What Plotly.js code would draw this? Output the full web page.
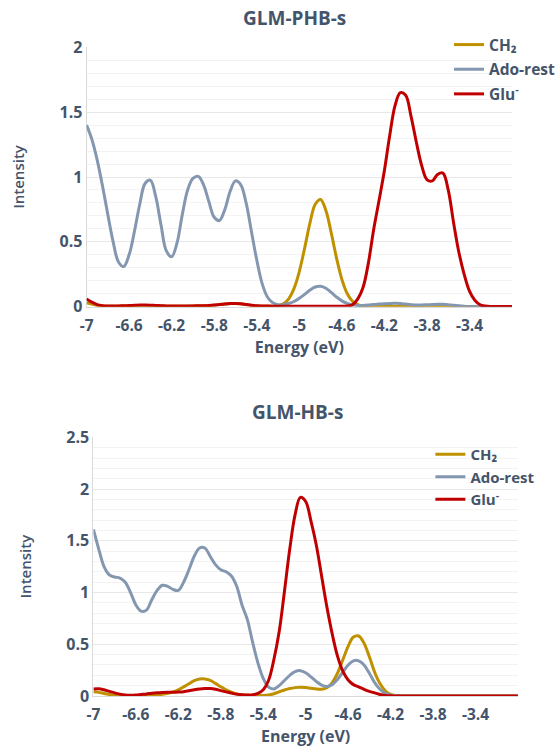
<!DOCTYPE html>
<html>
<head>
<meta charset="utf-8">
<script src="https://cdn.plot.ly/plotly-3.0.1.min.js"></script>
<style>
  html, body { margin: 0; padding: 0; background: #ffffff; }
  #chart { width: 560px; height: 747px; }
</style>
</head>
<body>
<div id="chart"></div>
<script>
// ---------------- DATA ----------------
const seriesNames = ["CH\u2082", "Ado-rest", "Glu<sup>-</sup>"];
const chartTitles = ["GLM-PHB-s", "GLM-HB-s"];
const xTickVals = [-7, -6.6, -6.2, -5.8, -5.4, -5, -4.6, -4.2, -3.8, -3.4];
const xTickText = ["-7", "-6.6", "-6.2", "-5.8", "-5.4", "-5", "-4.6", "-4.2", "-3.8", "-3.4"];

const energy = [-7.00,-6.95,-6.90,-6.85,-6.80,-6.75,-6.70,-6.65,-6.60,-6.55,
  -6.50,-6.45,-6.40,-6.35,-6.30,-6.25,-6.20,-6.15,-6.10,-6.05,
  -6.00,-5.95,-5.90,-5.85,-5.80,-5.75,-5.70,-5.65,-5.60,-5.55,
  -5.50,-5.45,-5.40,-5.35,-5.30,-5.25,-5.20,-5.15,-5.10,-5.05,
  -5.00,-4.95,-4.90,-4.85,-4.80,-4.75,-4.70,-4.65,-4.60,-4.55,
  -4.50,-4.45,-4.40,-4.35,-4.30,-4.25,-4.20,-4.15,-4.10,-4.05,
  -4.00,-3.95,-3.90,-3.85,-3.80,-3.75,-3.70,-3.65,-3.60,-3.55,
  -3.50,-3.45,-3.40,-3.35,-3.30,-3.25,-3.20,-3.15,-3.10,-3.05,-3.00];

// GLM-PHB-s
const phbCH2 = [0.03,0.02,0.01,0.005,0.004,0.004,0.004,0.005,0.006,0.007,
  0.008,0.008,0.007,0.006,0.005,0.004,0.004,0.004,0.004,0.004,
  0.005,0.006,0.007,0.009,0.012,0.016,0.02,0.024,0.025,0.022,
  0.016,0.01,0.006,0.004,0.003,0.004,0.009,0.023,0.061,0.139,
  0.271,0.451,0.645,0.79,0.827,0.742,0.57,0.375,0.211,0.102,
  0.042,0.015,0.005,0.003,0.003,0.002,0.002,0.002,0.002,0.002,
  0.002,0.002,0.002,0.002,0.002,0.002,0.002,0.002,0.002,0.002,
  0.002,0.002,0.002,0.002,0.002,0.001,0,0,0,0,0];
const phbAdo = [1.40,1.29,1.13,0.93,0.71,0.50,0.345,0.31,0.40,0.58,
  0.79,0.95,0.975,0.85,0.63,0.43,0.385,0.49,0.71,0.90,
  0.99,1.005,0.94,0.81,0.69,0.665,0.75,0.89,0.97,0.94,
  0.80,0.58,0.36,0.18,0.075,0.03,0.015,0.015,0.025,0.04,
  0.065,0.095,0.128,0.152,0.157,0.142,0.11,0.075,0.045,0.025,
  0.013,0.009,0.01,0.013,0.017,0.02,0.023,0.025,0.026,0.024,
  0.02,0.016,0.013,0.013,0.015,0.017,0.019,0.019,0.016,0.011,
  0.007,0.004,0.002,0.001,0,0,0,0,0,0,0];
const phbGlu = [0.06,0.035,0.016,0.008,0.005,0.005,0.006,0.007,0.009,0.011,
  0.013,0.013,0.012,0.01,0.008,0.006,0.005,0.005,0.005,0.005,
  0.006,0.007,0.008,0.01,0.013,0.017,0.021,0.024,0.025,0.022,
  0.017,0.012,0.008,0.006,0.005,0.004,0.004,0.004,0.004,0.004,
  0.004,0.004,0.004,0.004,0.004,0.004,0.004,0.004,0.004,0.005,
  0.015,0.06,0.15,0.34,0.60,0.82,1.05,1.32,1.55,1.65,
  1.63,1.47,1.27,1.09,0.98,0.97,1.02,1.03,0.90,0.65,
  0.42,0.25,0.12,0.05,0.015,0.005,0.002,0.002,0.002,0.002,0.002];

// GLM-HB-s
const hbCH2 = [0.04,0.035,0.025,0.015,0.008,0.005,0.004,0.004,0.004,0.005,
  0.006,0.008,0.011,0.016,0.025,0.04,0.06,0.088,0.118,0.148,
  0.165,0.165,0.15,0.122,0.09,0.06,0.036,0.02,0.012,0.008,
  0.005,0.004,0.005,0.01,0.022,0.04,0.058,0.072,0.081,0.085,
  0.082,0.075,0.068,0.066,0.08,0.13,0.22,0.35,0.48,0.57,
  0.58,0.51,0.38,0.23,0.12,0.05,0.015,0.004,0.001,0,
  0,0,0,0,0,0,0,0,0,0,
  0,0,0,0,0,0,0,0,0,0,0];
const hbAdo = [1.61,1.42,1.25,1.17,1.15,1.14,1.10,1.00,0.88,0.82,
  0.83,0.93,1.02,1.07,1.06,1.03,1.02,1.10,1.22,1.35,
  1.43,1.43,1.35,1.27,1.22,1.20,1.16,1.06,0.88,0.74,
  0.52,0.32,0.17,0.085,0.068,0.10,0.15,0.20,0.235,0.245,
  0.225,0.185,0.14,0.105,0.092,0.11,0.16,0.23,0.30,0.34,
  0.34,0.30,0.22,0.13,0.065,0.025,0.008,0.002,0,0,
  0,0,0,0,0,0,0,0,0,0,
  0,0,0,0,0,0,0,0,0,0,0];
const hbGlu = [0.068,0.07,0.06,0.045,0.03,0.018,0.01,0.008,0.01,0.015,
  0.02,0.027,0.032,0.035,0.036,0.036,0.038,0.042,0.05,0.06,
  0.068,0.073,0.072,0.065,0.052,0.04,0.028,0.018,0.012,0.01,
  0.012,0.025,0.06,0.15,0.35,0.62,1.01,1.42,1.75,1.92,
  1.88,1.69,1.46,1.16,0.86,0.60,0.385,0.24,0.155,0.11,
  0.088,0.065,0.045,0.03,0.015,0.006,0.002,0,0,0,
  0,0,0,0,0,0,0,0,0,0,
  0,0,0,0,0,0,0,0,0,0,0];

// ---------------- STYLE ----------------
const colors = ["#BF9000", "#8497B0", "#C00000"];
const textColor = "#44546A";
const W = 560, H = 747;

function mkTrace(y, i, xa, ya, leg) {
  return {
    x: energy, y: y, type: "scatter", mode: "lines",
    name: seriesNames[i], xaxis: xa, yaxis: ya, legend: leg,
    legendgroup: leg + "_" + i,
    line: { color: colors[i], width: 3, shape: "spline", smoothing: 1 },
    hoverinfo: "x+y+name"
  };
}

const data = [
  mkTrace(phbCH2, 0, "x", "y", "legend"),
  mkTrace(phbAdo, 1, "x", "y", "legend"),
  mkTrace(phbGlu, 2, "x", "y", "legend"),
  mkTrace(hbCH2, 0, "x2", "y2", "legend2"),
  mkTrace(hbAdo, 1, "x2", "y2", "legend2"),
  mkTrace(hbGlu, 2, "x2", "y2", "legend2")
];

function xAxis(left, right, anchor, stand, tstand) {
  return {
    domain: [left / W, right / W], anchor: anchor,
    range: [-7, -3], tickmode: "array", tickvals: xTickVals, ticktext: xTickText,
    ticks: "", ticklabelstandoff: stand,
    tickfont: { family: "Open Sans", size: 15.5, color: textColor, weight: 700 },
    showgrid: false, zeroline: false, showline: true, linecolor: "#D9D9D9", linewidth: 1,
    layer: "below traces", fixedrange: true,
    title: { text: "Energy (eV)", standoff: tstand,
      font: { family: "Open Sans", size: 16, color: textColor, weight: 700 } }
  };
}
function yAxis(bottomPx, topPx, maxV, anchor, stand, tstand) {
  return {
    domain: [1 - bottomPx / H, 1 - topPx / H], anchor: anchor,
    range: [0, maxV], dtick: 0.5, ticks: "", ticklabelstandoff: stand,
    tickfont: { family: "Open Sans", size: 16, color: textColor, weight: 700 },
    showgrid: true, gridcolor: "#E8E8E8", gridwidth: 1,
    minor: { dtick: 0.1, showgrid: true, gridcolor: "#F3F3F3", gridwidth: 1 },
    zeroline: false, showline: true, linecolor: "#D9D9D9", linewidth: 1,
    layer: "below traces", fixedrange: true,
    title: { text: "Intensity", standoff: tstand,
      font: { family: "Open Sans", size: 15, color: textColor, weight: 600 } }
  };
}

const layout = {
  width: W, height: H,
  margin: { l: 0, r: 0, t: 0, b: 0 },
  paper_bgcolor: "#ffffff", plot_bgcolor: "#ffffff",
  font: { family: "Open Sans", color: textColor },
  showlegend: true,
  xaxis: xAxis(88.3, 522.3, "y", 5, 4),
  yaxis: yAxis(306.7, 47.3, 2, "x", 0, 31),
  xaxis2: xAxis(95.3, 528.3, "y2", 4, 3),
  yaxis2: yAxis(696, 437.3, 2.5, "x2", 0, 31),
  legend: {
    x: 458 / W, xanchor: "left", y: 1 - 28 / H, yanchor: "top",
    bgcolor: "rgba(0,0,0,0)", borderwidth: 0,
    font: { family: "Open Sans", size: 15.5, color: textColor, weight: 700 },
    tracegroupgap: 1.5, itemwidth: 30
  },
  legend2: {
    x: 439 / W, xanchor: "left", y: 1 - 438 / H, yanchor: "top",
    bgcolor: "rgba(0,0,0,0)", borderwidth: 0,
    font: { family: "Open Sans", size: 15, color: textColor, weight: 700 },
    tracegroupgap: 0, itemwidth: 30
  },
  annotations: [
    { text: chartTitles[0], xref: "paper", yref: "paper", x: 300 / W, y: 1 - 18 / H,
      xanchor: "center", yanchor: "middle", showarrow: false,
      font: { family: "Open Sans", size: 19, color: textColor, weight: 700 } },
    { text: chartTitles[1], xref: "paper", yref: "paper", x: 303 / W, y: 1 - 412 / H,
      xanchor: "center", yanchor: "middle", showarrow: false,
      font: { family: "Open Sans", size: 19, color: textColor, weight: 700 } }
  ]
};

Plotly.newPlot("chart", data, layout, { displayModeBar: false, staticPlot: true });
</script>
</body>
</html>
